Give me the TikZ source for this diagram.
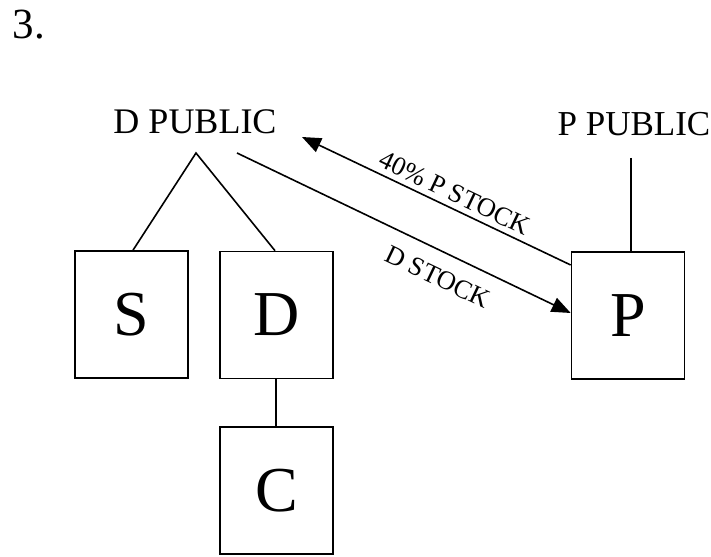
\documentclass[tikz,border=0pt]{standalone}
\usepackage{fontspec}
\setmainfont{Liberation Serif}
\usetikzlibrary{arrows.meta}
\begin{document}
\begin{tikzpicture}[x=1pt,y=-1pt,
  line width=1.6pt,
  entity/.style={draw, line width=1.6pt, minimum width=113pt, minimum height=127pt, inner sep=0pt, font=\fontsize{64}{64}\selectfont},
  pubtext/.style={inner sep=0pt, font=\fontsize{36}{36}\selectfont},
  lbl/.style={inner sep=0pt, rotate=-25.5, font=\fontsize{26.5}{26.5}\selectfont},
  arr/.style={-{Triangle[length=19pt,width=15pt]}, line width=1.6pt}]
\useasboundingbox (0,0) rectangle (711,556);
\node[inner sep=0pt, font=\fontsize{43}{43}\selectfont] (num) at (29,25) {3.};
\node[pubtext] (dpub) at (195,122) {D PUBLIC};
\node[pubtext, font=\fontsize{35}{35}\selectfont] (ppub) at (634,124) {P PUBLIC};
\node[entity] (S) at (131.5,314.5) {S};
\node[entity] (D) at (276.5,315) {D};
\node[entity] (C) at (276.5,490.5) {C};
\node[entity] (P) at (628,315.5) {P};
\coordinate (apex) at (196,153);
\coordinate (dstart) at (237,153);
\coordinate (ptop) at (631,158);
\coordinate (tipup) at (302,137);
\draw (S.north -| 133,0) -- (apex) -- (D.north -| 275,0);
\draw (D.south -| 276,0) -- (C.north -| 276,0);
\draw (ptop) -- (P.north -| 631,0);
\draw[arr] (P.west |- 0,265) -- (tipup);
\draw[arr] (dstart) -- (P.west |- 0,313);
\node[lbl] (l1) at (455,193) {40\% P STOCK};
\node[lbl] (l2) at (438,277) {D STOCK};
\end{tikzpicture}
\end{document}
